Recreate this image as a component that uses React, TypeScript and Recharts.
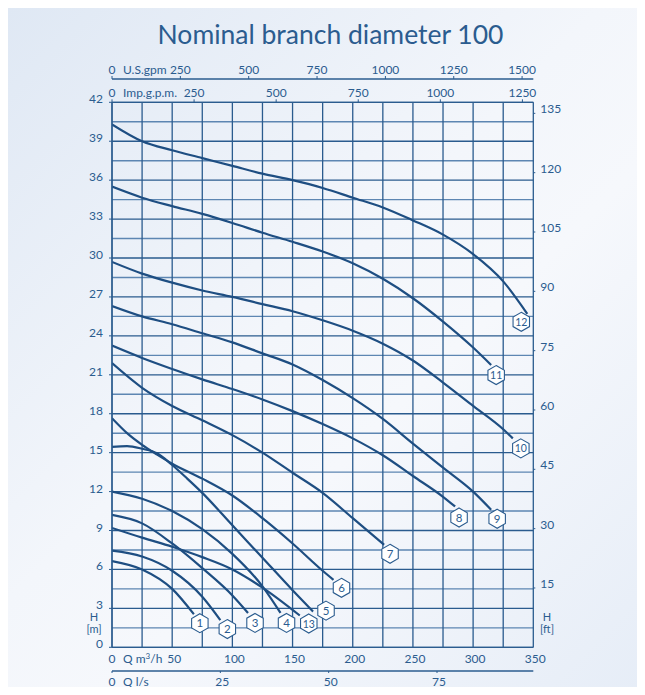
import React from "react";
import { LineChart, Line, XAxis, YAxis, CartesianGrid } from "recharts";

const BLUE = "#2b5c8f";
const CURVE = "#1e4e82";
const FONT = "Lato, 'Open Sans', sans-serif";

// flow Q in m3/h, head H in m, one pair of arrays per pump curve
const q1 = [0, 25, 50, 68];
const h1 = [6.65, 6.0, 4.5, 2.55];
const q2 = [0, 25, 50, 75, 90];
const h2 = [7.45, 7.0, 5.9, 3.9, 2.1];
const q3 = [0, 25, 50, 75, 100, 113];
const h3 = [10.2, 9.55, 8.0, 6.1, 4.0, 2.65];
const q4 = [0, 25, 50, 75, 100, 125, 140];
const h4 = [12.0, 11.45, 10.5, 9.1, 7.2, 4.7, 2.65];
const q13 = [0, 25, 50, 75, 100, 125, 156];
const h13 = [9.2, 8.45, 7.75, 6.95, 6.0, 4.6, 2.45];
const q5 = [0, 12.5, 25, 37.5, 50, 62.5, 75, 100, 125, 150, 167];
const h5 = [15.45, 15.5, 15.3, 14.95, 14.05, 13.0, 11.9, 9.4, 6.9, 4.4, 2.75];
const q6 = [0, 12.5, 25, 37.5, 50, 75, 100, 125, 150, 175, 184];
const h6 = [17.65, 16.5, 15.6, 14.85, 14.15, 13.0, 11.7, 9.95, 8.0, 5.9, 5.2];
const q7 = [0, 25, 50, 75, 100, 125, 150, 175, 200, 226];
const h7 = [21.9, 20.0, 18.6, 17.5, 16.35, 15.0, 13.45, 11.9, 9.95, 7.9];
const q8 = [0, 25, 50, 75, 100, 125, 150, 175, 200, 225, 250, 275, 285];
const h8 = [23.25, 22.3, 21.45, 20.65, 19.9, 19.1, 18.2, 17.2, 16.1, 14.8, 13.2, 11.6, 10.85];
const q9 = [0, 25, 50, 75, 100, 125, 150, 175, 200, 225, 250, 275, 300, 315];
const h9 = [26.3, 25.5, 24.9, 24.2, 23.5, 22.65, 21.8, 20.6, 19.2, 17.6, 15.7, 13.85, 12.0, 10.6];
const q10 = [0, 25, 50, 75, 100, 125, 150, 175, 200, 225, 250, 275, 300, 325, 333];
const h10 = [29.7, 28.8, 28.1, 27.5, 27.0, 26.45, 25.9, 25.2, 24.4, 23.4, 22.1, 20.4, 18.6, 16.8, 16.1];
const q11 = [0, 25, 50, 75, 100, 125, 150, 175, 200, 225, 250, 275, 300, 315];
const h11 = [35.5, 34.65, 34.0, 33.4, 32.7, 31.95, 31.25, 30.5, 29.6, 28.4, 26.9, 25.1, 23.1, 21.75];
const q12 = [0, 25, 50, 75, 100, 125, 150, 175, 200, 225, 250, 275, 300, 325, 345];
const h12 = [40.3, 39.0, 38.3, 37.7, 37.1, 36.5, 36.0, 35.4, 34.65, 33.9, 32.9, 31.8, 30.3, 28.2, 25.7];

const curveNames = ["1", "2", "3", "4", "13", "5", "6", "7", "8", "9", "10", "11", "12"];
const curveQ = [q1, q2, q3, q4, q13, q5, q6, q7, q8, q9, q10, q11, q12];
const curveH = [h1, h2, h3, h4, h13, h5, h6, h7, h8, h9, h10, h11, h12];

// tick labels
const M3H_TICKS = [0, 50, 100, 150, 200, 250, 300, 350];
const LS_TICKS = [0, 25, 50, 75];
const US_TICKS = [0, 250, 500, 750, 1000, 1250, 1500];
const IMP_TICKS = [0, 250, 500, 750, 1000, 1250];
const M_TICKS = [0, 3, 6, 9, 12, 15, 18, 21, 24, 27, 30, 33, 36, 39, 42];
const FT_TICKS = [15, 30, 45, 60, 75, 90, 105, 120, 135];

const Q_MAX = 350;
const H_MAX = 42;
const LS_MAX = Q_MAX / 3.6;
const US_MAX = Q_MAX / 0.227125;
const IMP_MAX = Q_MAX / 0.272765;
const FT_MAX = H_MAX * 3.28084;

// the same flow range expressed in the secondary units (drives the extra axes)
const flowRange = [
  { ls: 0, us: 0, imp: 0 },
  { ls: LS_MAX, us: US_MAX, imp: IMP_MAX },
];

// hexagon label placement relative to the curve end, px
const labelShift: Record<string, [number, number]> = {
  "1": [6, 9], "2": [7, 9], "3": [7, 10], "4": [6, 10], "13": [9, 8],
  "5": [13, -1], "6": [8, 8], "7": [6, 9], "8": [4, 11], "9": [6, 9],
  "10": [8, 10], "11": [5, 10], "12": [-6, 8],
};

const gridQ: number[] = [];
for (let v = 0; v <= Q_MAX; v += 25) gridQ.push(v);
const gridHMajor: number[] = [];
const gridHMinor: number[] = [];
for (let v = 0; v <= H_MAX; v += 1.5) (v % 3 === 0 ? gridHMajor : gridHMinor).push(v);

// linear value -> pixel, same mapping as the chart's axes
const yPix = (offset: any, v: number) => offset.top + offset.height * (1 - v / H_MAX);
const xPix = (offset: any, v: number) => offset.left + (offset.width * v) / Q_MAX;

const txt = { fill: BLUE, fontSize: 12, fontFamily: FONT };

const topTick = (unit: string) => (props: any) => {
  const { x, y, payload } = props;
  return (
    <g>
      <text x={x} y={y} textAnchor="middle" {...txt}>{payload.value}</text>
      {payload.value === 0 ? <text x={x + 11} y={y} textAnchor="start" {...txt}>{unit}</text> : null}
    </g>
  );
};

const bottomTick = (unit: React.ReactNode) => (props: any) => {
  const { x, y, payload } = props;
  const v = payload.value;
  return (
    <g>
      <text x={v === 0 ? x : x + 2} y={y + 9} textAnchor="middle" {...txt}>{v}</text>
      {v === 0 ? <text x={x + 11} y={y + 9} textAnchor="start" {...txt}>{unit}</text> : null}
    </g>
  );
};

const leftTick = (props: any) => (
  <text x={props.x} y={props.y + 1} textAnchor="end" {...txt}>{props.payload.value}</text>
);
const rightTick = (props: any) => (
  <text x={props.x} y={props.y} textAnchor="start" {...txt}>{props.payload.value}</text>
);

const hexPoints = (cx: number, cy: number, r: number) =>
  [0, 1, 2, 3, 4, 5]
    .map((i) => {
      const a = (Math.PI / 180) * (60 * i - 90);
      return `${cx + r * Math.cos(a)},${cy + r * Math.sin(a)}`;
    })
    .join(" ");

const hexDot = (name: string, last: number) => (props: any) => {
  const { cx, cy, index } = props;
  if (index !== last) return <g key={`d-${name}-${index}`} />;
  const [dx, dy] = labelShift[name];
  const x = cx + dx;
  const y = cy + dy;
  return (
    <g key={`d-${name}-${index}`}>
      <polygon points={hexPoints(x, y, 9.5)} fill="#ffffff" stroke={BLUE} strokeWidth={1.1} />
      <text x={x} y={y + 4} textAnchor="middle" fill={BLUE} fontSize={name.length > 1 ? 10.5 : 11.5} fontFamily={FONT}>
        {name}
      </text>
    </g>
  );
};

const unitLabel = { position: "absolute" as const, fontSize: 11, lineHeight: "11px", color: BLUE, textAlign: "center" as const, width: 16 };

const App: React.FC = () => {
  const series = curveNames.map((name, i) => ({
    name,
    data: curveQ[i].map((q, j) => ({ q, h: curveH[i][j] })),
  }));

  return (
    <div
      style={{
        position: "relative",
        width: 637,
        height: 679,
        background: "linear-gradient(135deg, #dfe8f4 0%, #f3f6fb 45%, #f6f8fc 60%, #e6edf7 100%)",
        fontFamily: FONT,
      }}
    >
      <div style={{ position: "absolute", top: 10, left: 8, width: 629, textAlign: "center", fontSize: 26.5, color: BLUE }}>
        Nominal branch diameter 100
      </div>
      <div style={{ ...unitLabel, left: 78, top: 603 }}>H</div>
      <div style={{ ...unitLabel, left: 78, top: 615 }}>[m]</div>
      <div style={{ ...unitLabel, left: 531, top: 603 }}>H</div>
      <div style={{ ...unitLabel, left: 531, top: 615 }}>[ft]</div>
      <div style={{ position: "absolute", left: 0, top: 0 }}>
        <LineChart width={637} height={687} data={flowRange} margin={{ top: 47.7, right: 71.7, bottom: 8, left: 64 }}>
          <CartesianGrid
            xAxisId="a_m3h"
            yAxisId="m"
            stroke="#5d86b2"
            strokeWidth={1.4}
            vertical={false}
            horizontalCoordinatesGenerator={({ offset }: any) => gridHMinor.map((v) => yPix(offset, v))}
          />
          <CartesianGrid
            xAxisId="a_m3h"
            yAxisId="m"
            stroke="#2a5b8e"
            strokeWidth={1.3}
            horizontalCoordinatesGenerator={({ offset }: any) => gridHMajor.map((v) => yPix(offset, v))}
            verticalCoordinatesGenerator={({ offset }: any) => gridQ.map((v) => xPix(offset, v))}
          />
          <XAxis
            xAxisId="a_m3h"
            dataKey="q"
            type="number"
            orientation="bottom"
            domain={[0, Q_MAX]}
            ticks={M3H_TICKS}
            interval={0}
            allowDataOverflow
            height={23.7}
            tickSize={0}
            tickMargin={7}
            axisLine={{ stroke: BLUE, strokeWidth: 1.3 }}
            tick={bottomTick(<tspan>Q m<tspan dy={-4} fontSize={8}>3</tspan><tspan dy={4}>/h</tspan></tspan>)}
          />
          <XAxis
            xAxisId="b_ls"
            dataKey="ls"
            type="number"
            orientation="bottom"
            domain={[0, LS_MAX]}
            ticks={LS_TICKS}
            interval={0}
            allowDataOverflow
            height={16}
            tickSize={2}
            tickMargin={4}
            axisLine={{ stroke: BLUE, strokeWidth: 1.3 }}
            tickLine={{ stroke: BLUE }}
            tick={bottomTick("Q l/s")}
          />
          <XAxis
            xAxisId="a_imp"
            dataKey="imp"
            type="number"
            orientation="top"
            domain={[0, IMP_MAX]}
            ticks={IMP_TICKS}
            interval={0}
            allowDataOverflow
            height={23.3}
            tickSize={3}
            tickMargin={2}
            axisLine={{ stroke: BLUE, strokeWidth: 1.3 }}
            tickLine={{ stroke: BLUE }}
            tick={topTick("Imp.g.p.m.")}
          />
          <XAxis
            xAxisId="b_us"
            dataKey="us"
            type="number"
            orientation="top"
            domain={[0, US_MAX]}
            ticks={US_TICKS}
            interval={0}
            allowDataOverflow
            height={23.3}
            tickSize={3}
            tickMargin={2}
            axisLine={{ stroke: BLUE, strokeWidth: 1.3 }}
            tickLine={{ stroke: BLUE }}
            tick={topTick("U.S.gpm")}
          />
          <YAxis
            yAxisId="m"
            type="number"
            orientation="left"
            domain={[0, H_MAX]}
            ticks={M_TICKS}
            interval={0}
            allowDataOverflow
            width={40}
            tickSize={3}
            tickMargin={6}
            axisLine={{ stroke: BLUE, strokeWidth: 1.3 }}
            tickLine={{ stroke: BLUE }}
            tick={leftTick}
          />
          <YAxis
            yAxisId="ft"
            type="number"
            orientation="right"
            domain={[0, FT_MAX]}
            ticks={FT_TICKS}
            interval={0}
            allowDataOverflow
            width={40}
            tickSize={2}
            tickMargin={5}
            axisLine={false}
            tickLine={{ stroke: BLUE }}
            tick={rightTick}
          />
          {series.map((s) => (
            <Line
              key={s.name}
              xAxisId="a_m3h"
              yAxisId="m"
              data={s.data}
              dataKey="h"
              type="monotone"
              stroke={CURVE}
              strokeWidth={2.2}
              dot={hexDot(s.name, s.data.length - 1)}
              activeDot={false}
              isAnimationActive={false}
            />
          ))}
        </LineChart>
      </div>
    </div>
  );
};

export default App;
